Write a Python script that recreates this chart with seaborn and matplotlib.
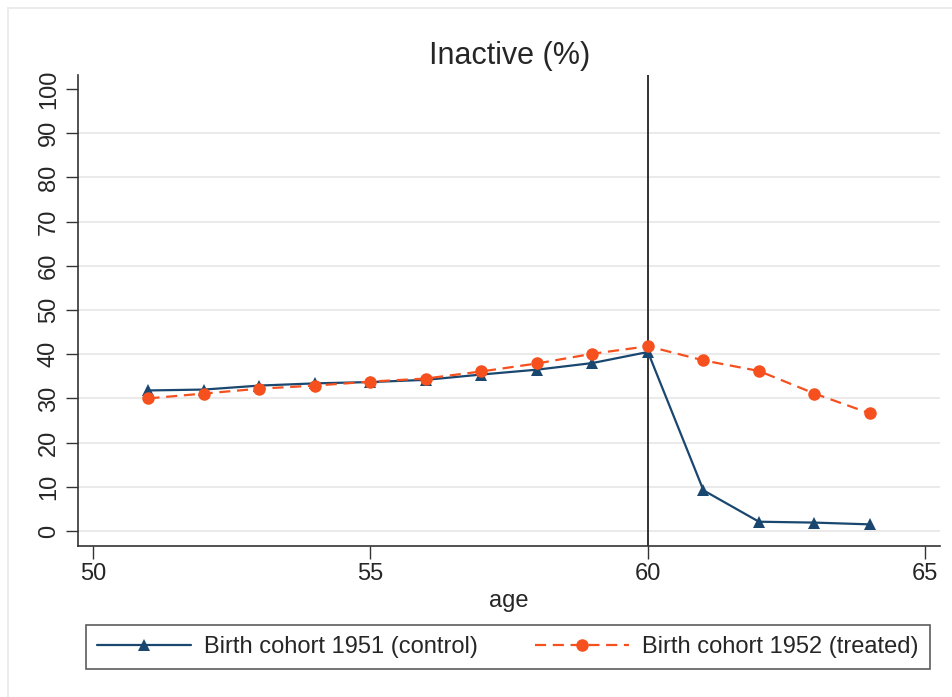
import numpy as np
import pandas as pd
import matplotlib
matplotlib.use("Agg")
import matplotlib.pyplot as plt
import seaborn as sns

# 数据：从图上读出来的
ages = [51, 52, 53, 54, 55, 56, 57, 58, 59, 60, 61, 62, 63, 64]
control_1951 = [31.8, 32.0, 32.9, 33.4, 33.7, 34.2, 35.4, 36.5, 38.0, 40.5, 9.2, 2.1, 1.9, 1.5]
treated_1952 = [30.0, 31.1, 32.2, 32.9, 33.8, 34.5, 36.1, 37.9, 40.1, 41.8, 38.6, 36.2, 31.1, 26.6]
label_control = "Birth cohort 1951 (control)"
label_treated = "Birth cohort 1952 (treated)"
x_ticks = [50, 55, 60, 65]
y_ticks = list(range(0, 101, 10))
cutoff_age = 60

sns.set_theme(style="white")
plt.rcParams['font.family'] = ['Liberation Sans', 'DejaVu Sans']

df = pd.DataFrame({
    "age": ages * 2,
    "value": control_1951 + treated_1952,
    "cohort": [label_control] * len(ages) + [label_treated] * len(ages),
})

fig = plt.figure(figsize=(9.53, 6.97), dpi=100)
ax = fig.add_axes([0.0818, 0.2166, 0.905, 0.676])

# 网格线（Stata 风格，顶端 100 不画）
for yv in y_ticks[:-1]:
    ax.axhline(yv, color="#e6e6e6", lw=1.2, zorder=0)

ax.axvline(cutoff_age, color="#222222", lw=1.3, zorder=1)

sns.lineplot(data=df, x="age", y="value", hue="cohort", style="cohort",
             palette={label_control: "#1a476f", label_treated: "#f5501e"},
             markers={label_control: "^", label_treated: "o"},
             dashes={label_control: "", label_treated: (5, 3)},
             markersize=9, markeredgewidth=0, linewidth=1.6, ax=ax, zorder=3)

ax.set_xlim(49.73, 65.27)
ax.set_ylim(-3.4, 103.2)
ax.set_xticks(x_ticks)
ax.set_yticks(y_ticks)
ax.tick_params(axis="both", which="both", direction="out", length=9, width=1,
               color="#333333", labelsize=17, left=True, bottom=True)
ax.tick_params(axis="y", pad=4)
for lab in ax.get_yticklabels():
    lab.set_rotation(90)
    lab.set_va("center")

for side in ["top", "right"]:
    ax.spines[side].set_visible(False)
for side in ["left", "bottom"]:
    ax.spines[side].set_color("#333333")
    ax.spines[side].set_linewidth(1.2)

ax.set_xlabel("age", fontsize=17, labelpad=3)
ax.set_ylabel("")
ax.set_title("Inactive (%)", fontsize=22, pad=8)

handles, labels = ax.get_legend_handles_labels()
ax.legend(handles, labels, loc="center", bbox_to_anchor=(508 / 953, 1 - 647 / 697),
          bbox_transform=fig.transFigure, ncol=2, fontsize=17, frameon=True,
          fancybox=False, edgecolor="#333333", handlelength=4.0, columnspacing=2.4,
          borderpad=0.45, handletextpad=0.55)
ax.get_legend().get_frame().set_linewidth(1.2)

# 外框（截图里的淡灰边）
fig.patches.append(plt.Rectangle((8 / 953, -0.01), 1.0, 1 - 8 / 697 + 0.01,
                                 transform=fig.transFigure, fill=False,
                                 edgecolor="#ececec", lw=1.5))

plt.savefig("out.png", dpi=100)
